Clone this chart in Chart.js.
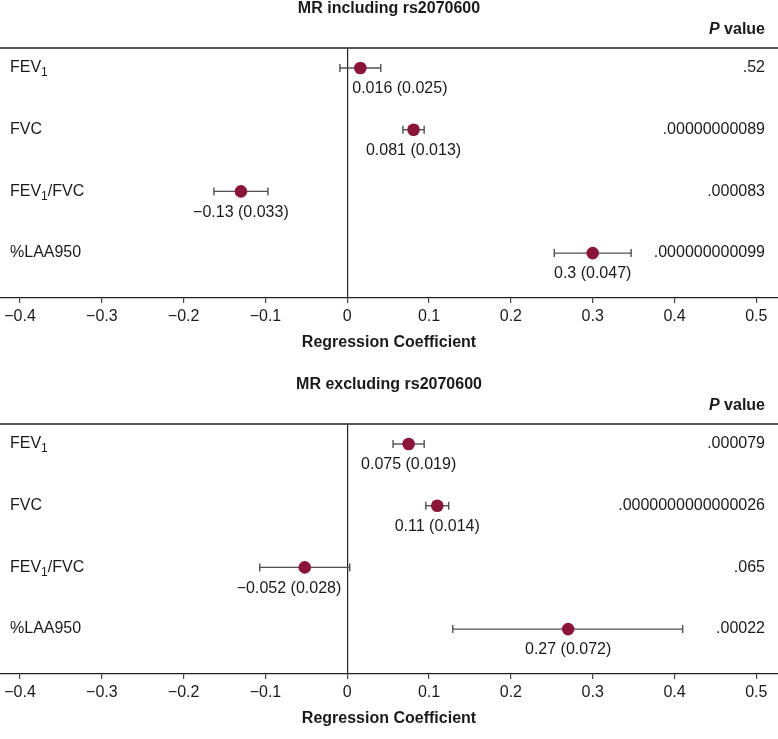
<!DOCTYPE html>
<html>
<head>
<meta charset="utf-8">
<script src="https://cdn.jsdelivr.net/npm/chart.js@4/dist/chart.umd.min.js"></script>
<style>
  html, body { margin: 0; padding: 0; background: #fff; }
  body { width: 778px; height: 739px; overflow: hidden; }
  canvas { display: block; }
</style>
</head>
<body>
<canvas id="c1" width="778" height="376"></canvas>
<canvas id="c2" width="778" height="363"></canvas>
<script>
// ---------- data ----------
const rowLabels = ['FEV₁', 'FVC', 'FEV₁/FVC', '%LAA950'];
const tickValues = [-0.4, -0.3, -0.2, -0.1, 0, 0.1, 0.2, 0.3, 0.4, 0.5];
const tickLabels = ['−0.4', '−0.3', '−0.2', '−0.1', '0', '0.1', '0.2', '0.3', '0.4', '0.5'];

// MR including rs2070600
const inclTitle = 'MR including rs2070600';
const inclEstimate = [0.016, 0.081, -0.13, 0.3];
const inclLower = [-0.009, 0.068, -0.163, 0.253];
const inclUpper = [0.041, 0.094, -0.097, 0.347];
const inclText = ['0.016 (0.025)', '0.081 (0.013)', '−0.13 (0.033)', '0.3 (0.047)'];
const inclP = ['.52', '.00000000089', '.000083', '.000000000099'];

// MR excluding rs2070600
const exclTitle = 'MR excluding rs2070600';
const exclEstimate = [0.075, 0.11, -0.052, 0.27];
const exclLower = [0.056, 0.096, -0.107, 0.129];
const exclUpper = [0.094, 0.124, 0.003, 0.41];
const exclText = ['0.075 (0.019)', '0.11 (0.014)', '−0.052 (0.028)', '0.27 (0.072)'];
const exclP = ['.000079', '.0000000000000026', '.065', '.00022'];

const axisTitle = 'Regression Coefficient';
const pHeader = 'value';

// ---------- styling ----------
const FONT = "'Liberation Sans', Arial, Helvetica, sans-serif";
const TEXT = '#1a1a1a';
const DOT = '#8a1538';
const WHISKER = '#505050';

function drawRich(ctx, text, x, y) {
  let cx = x;
  const parts = text.split(/(₁)/);
  for (const part of parts) {
    if (!part) continue;
    if (part === '₁') {
      ctx.font = '12px ' + FONT;
      ctx.fillText('1', cx, y + 5);
      cx += ctx.measureText('1').width;
    } else {
      ctx.font = '16px ' + FONT;
      ctx.fillText(part, cx, y);
      cx += ctx.measureText(part).width;
    }
  }
}

function makeChart(id, title, est, lo, hi, txt, pv, bottomPad) {
  const whiskerSets = est.map((v, i) => ({
    type: 'scatter',
    showLine: true,
    data: [{ x: lo[i], y: i }, { x: hi[i], y: i }],
    borderColor: WHISKER,
    borderWidth: 1.4,
    pointStyle: 'line',
    rotation: 90,
    pointRadius: 4,
    pointBorderColor: WHISKER,
    pointBorderWidth: 1.4,
    pointBackgroundColor: WHISKER,
    order: 2
  }));
  const pointSet = {
    type: 'scatter',
    data: est.map((v, i) => ({ x: v, y: i })),
    backgroundColor: DOT,
    borderColor: DOT,
    borderWidth: 0,
    pointRadius: 6.3,
    order: 0
  };

  const textPlugin = {
    id: 'forestText',
    afterDraw(chart) {
      const ctx = chart.ctx;
      const area = chart.chartArea;
      const xs = chart.scales.x;
      const ys = chart.scales.y;
      const W = chart.width;
      ctx.save();
      // top rule
      ctx.strokeStyle = '#222';
      ctx.lineWidth = 1.3;
      ctx.beginPath();
      ctx.moveTo(0, area.top);
      ctx.lineTo(W, area.top);
      ctx.stroke();

      ctx.fillStyle = TEXT;
      // title
      ctx.font = 'bold 16px ' + FONT;
      ctx.textAlign = 'center';
      ctx.textBaseline = 'middle';
      ctx.fillText(title, W / 2, 9);

      // P value header
      ctx.textAlign = 'left';
      ctx.font = 'bold 16px ' + FONT;
      const vw = ctx.measureText(' ' + pHeader).width;
      ctx.font = 'italic bold 16px ' + FONT;
      const pw = ctx.measureText('P').width;
      const right = 765;
      ctx.fillText('P', right - vw - pw, 30);
      ctx.font = 'bold 16px ' + FONT;
      ctx.fillText(' ' + pHeader, right - vw, 30);

      const zeroX = xs.getPixelForValue(0);
      rowLabels.forEach((lab, i) => {
        const y = ys.getPixelForValue(i);
        ctx.textAlign = 'left';
        ctx.textBaseline = 'middle';
        drawRich(ctx, lab, 10, y);
        // p value
        ctx.font = '16px ' + FONT;
        ctx.textAlign = 'right';
        ctx.fillText(pv[i], right, y);
        // estimate label
        const px = xs.getPixelForValue(est[i]);
        const w = ctx.measureText(txt[i]).width;
        let left = px - w / 2;
        if (left < zeroX && left + w > zeroX) {
          if (px >= zeroX) left = zeroX + 5;
          else left = zeroX - 6 - w;
        }
        ctx.textAlign = 'left';
        ctx.fillText(txt[i], left, y + 21);
      });
      ctx.restore();
    }
  };

  return new Chart(document.getElementById(id), {
    type: 'scatter',
    data: { datasets: [pointSet, ...whiskerSets] },
    plugins: [textPlugin],
    options: {
      responsive: false,
      animation: false,
      devicePixelRatio: 1,
      layout: { autoPadding: false, padding: { top: 48, left: 0, right: 0, bottom: bottomPad } },
      plugins: { legend: { display: false }, tooltip: { enabled: false } },
      scales: {
        x: {
          type: 'linear',
          min: -0.4245,
          max: 0.5265,
          afterBuildTicks(scale) { scale.ticks = tickValues.map(v => ({ value: v })); },
          afterFit(scale) { scale.height = 60; },
          ticks: {
            autoSkip: false,
            maxRotation: 0,
            padding: 4,
            color: TEXT,
            font: { family: FONT, size: 16 },
            callback: (v, i) => tickLabels[i]
          },
          grid: {
            drawOnChartArea: true,
            drawTicks: true,
            tickLength: 5,
            tickColor: '#444',
            lineWidth: 1.2,
            color: c => (c.tick && c.tick.value === 0) ? '#222' : 'rgba(0,0,0,0)'
          },
          border: { display: true, color: '#222', width: 1.3 },
          title: {
            display: true,
            text: axisTitle,
            color: TEXT,
            font: { family: FONT, size: 16, weight: 'bold' },
            padding: { top: 0, bottom: 6 }
          }
        },
        y: {
          type: 'linear',
          display: false,
          reverse: true,
          min: -0.324,
          max: 3.728
        }
      }
    }
  });
}

makeChart('c1', inclTitle, inclEstimate, inclLower, inclUpper, inclText, inclP, 18);
makeChart('c2', exclTitle, exclEstimate, exclLower, exclUpper, exclText, exclP, 5);
</script>
</body>
</html>
